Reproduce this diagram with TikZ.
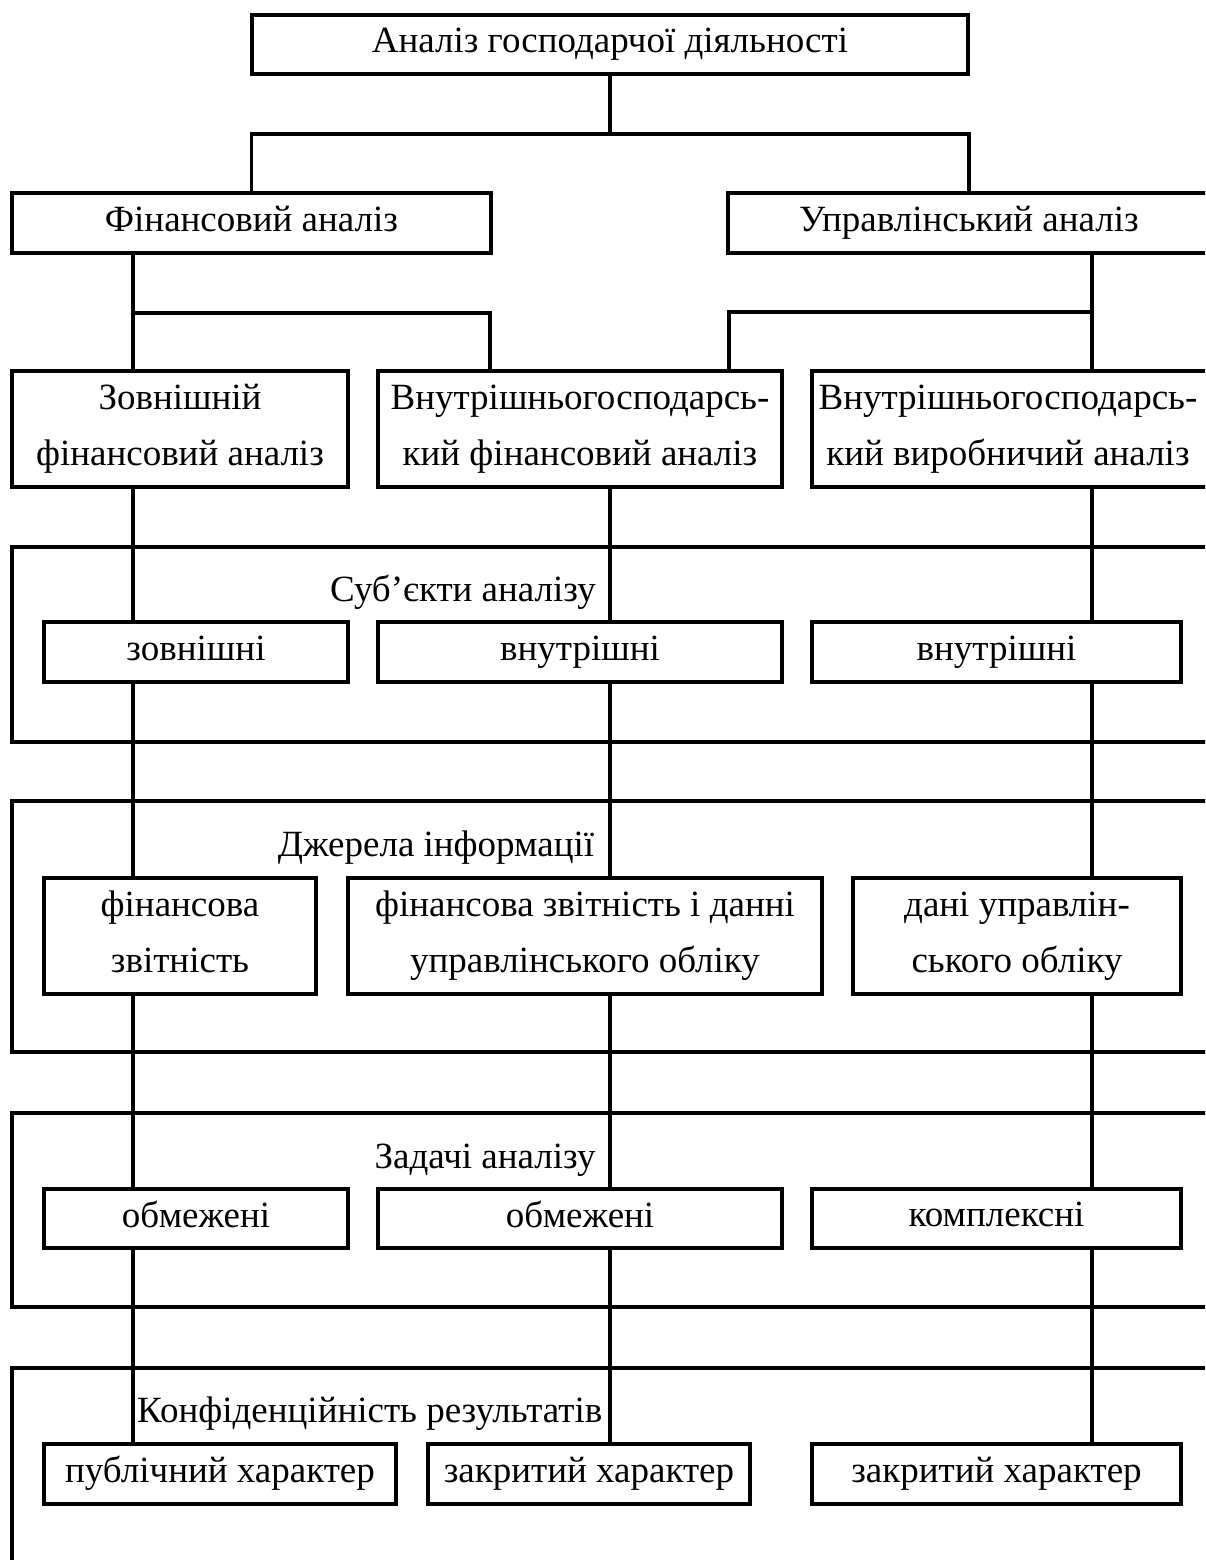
\documentclass[tikz,border=0pt]{standalone}
\usepackage{fontspec}
\setmainfont{Liberation Serif}
\newcommand\mainfs{\fontsize{37}{56}\selectfont}
\newcommand\ms{\rule[-0.25em]{0pt}{0.95em}}
\begin{document}
\begin{tikzpicture}[x=1pt,y=-1pt,
  boxnode/.style={draw, line width=4pt, inner sep=0pt, align=center, font=\mainfs},
  txtnode/.style={inner sep=0pt, align=center, font=\mainfs},
  grpnode/.style={draw, line width=4pt, inner sep=0pt},
  grpline/.style={line width=4pt},
  conn/.style={line width=3.2pt}]
\clip (0,0) rectangle (1205,1560);
\fill[white] (0,0) rectangle (1205,1560);

% group frames
\node[grpnode, minimum width=1218pt, minimum height=195pt] (g1) at (621,644.5) {};
\node[grpnode, minimum width=1218pt, minimum height=251pt] (g2) at (621,926.5) {};
\node[grpnode, minimum width=1218pt, minimum height=194pt] (g3) at (621,1210) {};
\coordinate (g4r) at (1240,1368);
\coordinate (g4b) at (12,1575);
\draw[grpline] (g4r) -| (g4b);

% group titles
\node[txtnode, anchor=base] (t1) at (463,601) {Суб’єкти аналізу};
\node[txtnode, anchor=base] (t2) at (436,856) {Джерела інформації};
\node[txtnode, anchor=base] (t3) at (485,1168) {Задачі аналізу};
\node[txtnode, anchor=base west] (t4) at (137,1422) {Конфіденційність результатів};

% main boxes
\node[boxnode, minimum width=716pt, minimum height=59pt] (top) at (610,44.5) {\ms Аналіз господарчої діяльності};
\node[boxnode, minimum width=479pt, minimum height=60pt] (fin) at (251.5,223) {\ms Фінансовий аналіз};
\node[boxnode, minimum width=482pt, minimum height=60pt] (upr) at (969,223) {\ms Управлінський аналіз};
\node[boxnode, minimum width=336pt, minimum height=116pt] (zovn) at (180,429) {\ms Зовнішній\\\ms фінансовий аналіз};
\node[boxnode, minimum width=404pt, minimum height=116pt] (vfin) at (580,429) {\ms Внутрішньогосподарсь-\\\ms кий фінансовий аналіз};
\node[boxnode, minimum width=428pt, minimum height=116pt] (vvyr) at (1026,429) {};
\node[txtnode] (vvyrT) at (1008,429) {\ms Внутрішньогосподарсь-\\\ms кий виробничий аналіз};

% row 1
\node[boxnode, minimum width=304pt, minimum height=60pt] (r1a) at (196,652) {\ms зовнішні};
\node[boxnode, minimum width=404pt, minimum height=60pt] (r1b) at (580,652) {\ms внутрішні};
\node[boxnode, minimum width=369pt, minimum height=60pt] (r1c) at (996.5,652) {\ms внутрішні};
% row 2
\node[boxnode, minimum width=272pt, minimum height=116pt] (r2a) at (180,936) {\ms фінансова\\\ms звітність};
\node[boxnode, minimum width=474pt, minimum height=116pt] (r2b) at (585,936) {\ms фінансова звітність і данні\\\ms управлінського обліку};
\node[boxnode, minimum width=328pt, minimum height=116pt] (r2c) at (1017,936) {\ms дані управлін-\\\ms ського обліку};
% row 3
\node[boxnode, minimum width=304pt, minimum height=59pt] (r3a) at (196,1218.5) {\ms обмежені};
\node[boxnode, minimum width=404pt, minimum height=59pt] (r3b) at (580,1218.5) {\ms обмежені};
\node[boxnode, minimum width=369pt, minimum height=59pt] (r3c) at (996.5,1218.5) {\ms комплексні};
% row 4
\node[boxnode, minimum width=352pt, minimum height=60pt] (r4a) at (220,1474) {\ms публічний характер};
\node[boxnode, minimum width=322pt, minimum height=60pt] (r4b) at (589,1474) {\ms закритий характер};
\node[boxnode, minimum width=369pt, minimum height=60pt] (r4c) at (996.5,1474) {\ms закритий характер};

% coordinates for connectors
\coordinate (colA) at (133,0);
\coordinate (colB) at (610,0);
\coordinate (colC) at (1092,0);
\coordinate (j0) at (610,134);
\coordinate (j1) at (133,313);
\coordinate (k1) at (490,0);
\coordinate (j2) at (1092,312);
\coordinate (k2) at (729,0);

\draw[conn] (top.south) -- (j0);
\draw[conn] (fin.north) |- (j0) -| (upr.north);
\draw[conn] (fin.south -| colA) -- (zovn.north -| colA);
\draw[conn] (j1) -| (vfin.north -| k1);
\draw[conn] (upr.south -| colC) -- (vvyr.north -| colC);
\draw[conn] (j2) -| (vfin.north -| k2);

\foreach \a/\b in {zovn/r1a, r1a/r2a, r2a/r3a, r3a/r4a}
  \draw[conn] (\a.south -| colA) -- (\b.north -| colA);
\foreach \a/\b in {vfin/r1b, r1b/r2b, r2b/r3b, r3b/r4b}
  \draw[conn] (\a.south -| colB) -- (\b.north -| colB);
\foreach \a/\b in {vvyr/r1c, r1c/r2c, r2c/r3c, r3c/r4c}
  \draw[conn] (\a.south -| colC) -- (\b.north -| colC);
\end{tikzpicture}
\end{document}
